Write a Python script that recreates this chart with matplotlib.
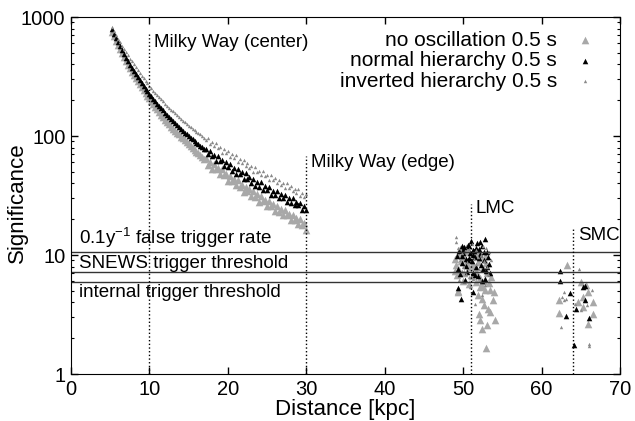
import matplotlib
matplotlib.use("Agg")
import matplotlib.pyplot as plt


# Milky Way distance grid [kpc] shared by the three simulated spectra
D_MW = [5.25, 5.5, 5.75, 6.0, 6.25, 6.5, 6.75, 7.0, 7.25, 7.5, 7.75, 8.0,
        8.25, 8.5, 8.75, 9.0, 9.25, 9.5, 9.75, 10.0, 10.25, 10.5, 10.75, 11.0,
        11.25, 11.5, 11.75, 12.0, 12.25, 12.5, 12.75, 13.0, 13.25, 13.5, 13.75, 14.0,
        14.25, 14.5, 14.75, 15.0, 15.25, 15.5, 15.75, 16.0, 16.25, 16.5, 16.75, 17.0,
        17.25, 17.5, 17.75, 18.0, 18.25, 18.5, 18.75, 19.0, 19.25, 19.5, 19.75, 20.0,
        20.25, 20.5, 20.75, 21.0, 21.25, 21.5, 21.75, 22.0, 22.25, 22.5, 22.75, 23.0,
        23.25, 23.5, 23.75, 24.0, 24.25, 24.5, 24.75, 25.0, 25.25, 25.5, 25.75, 26.0,
        26.25, 26.5, 26.75, 27.0, 27.25, 27.5, 27.75, 28.0, 28.25, 28.5, 28.75, 29.0,
        29.25, 29.5, 29.75, 30.0]

S_NOOSC_MW = [750, 689, 633, 582, 536, 495, 460, 427, 398, 372, 348, 326,
              306, 288, 272, 256, 242, 230, 218, 208, 197, 186, 177, 168,
              159, 151, 144, 137, 131, 125, 120, 115, 111, 107, 103, 99,
              95.5, 92, 89.4, 86, 82.9, 79.9, 76.9, 73.9, 71.9, 69.3, 66.9, 64.7,
              64.8, 57.5, 60.0, 53.2, 58.5, 52.5, 54.3, 48.3, 53.0, 46.8, 48.0, 42.0,
              46.3, 41.7, 43.3, 38.5, 42.4, 37.2, 39.0, 33.9, 37.5, 34.2, 35.6, 31.4,
              34.7, 30.7, 32.3, 28.1, 31.4, 28.2, 29.1, 25.9, 28.6, 25.7, 27.0, 23.4,
              25.9, 23.2, 24.5, 21.6, 23.9, 21.5, 22.2, 19.6, 21.8, 19.5, 20.6, 18.1,
              20.2, 18.0, 18.4, 16.3]
S_NORMAL_MW = [790, 725, 668, 615, 568, 526, 489, 455, 425, 398, 373, 350,
               330, 311, 294, 278, 263, 250, 237, 226, 215, 205, 196, 187,
               179, 171, 164, 157, 151, 145, 139, 134, 129, 124, 120, 115,
               111, 107, 104, 100, 97, 94, 91, 88, 85.6, 83, 80.6, 78,
               78.3, 70.8, 75.3, 67.7, 69.3, 62.0, 68.2, 61.3, 62.8, 56.4, 60.2, 54.8,
               58.4, 51.1, 53.6, 47.6, 52.5, 47.9, 49.7, 43.9, 48.9, 43.3, 45.0, 40.6,
               43.9, 38.0, 40.9, 37.6, 40.7, 35.4, 38.0, 35.1, 37.2, 32.0, 34.8, 32.1,
               34.8, 30.3, 32.5, 30.1, 31.9, 27.8, 29.9, 27.6, 30.0, 26.1, 28.1, 26.1,
               27.5, 23.9, 25.8, 23.8]
S_INVERTED_MW = [822, 761, 708, 658, 613, 573, 538, 505, 475, 448, 423, 399,
                 378, 358, 340, 322, 306, 291, 277, 264, 252, 241, 231, 221,
                 212, 203, 195, 187, 180, 173, 167, 161, 156, 150, 145, 140,
                 135, 130, 127, 122, 119, 115, 112, 108, 106, 103, 100, 96.7,
                 92.2, 95.9, 85.1, 89.9, 82.1, 87.3, 79.4, 80.5, 72.2, 78.5, 71.3, 75.3,
                 66.5, 70.4, 65.3, 68.9, 60.2, 63.8, 59.3, 62.8, 55.6, 59.4, 53.7, 56.3,
                 49.8, 55.0, 50.3, 51.2, 46.7, 51.2, 45.8, 46.8, 42.6, 46.8, 42.8, 44.0,
                 39.9, 42.9, 38.8, 40.5, 36.6, 40.2, 36.4, 38.0, 34.4, 35.9, 33.5, 35.8,
                 31.4, 33.3, 31.0, 32.8]

# Magellanic clouds, one entry per simulated burst
D_NOOSC_MC = [48.9, 49.1, 49.3, 49.5, 49.7, 49.9, 50.1, 50.3, 50.5, 50.7, 50.9, 51.1, 51.3, 51.5,
              51.7, 51.9, 52.1, 52.3, 52.5, 52.7, 52.9, 53.1, 53.3, 49.2, 49.6, 50.0, 50.4, 50.8,
              51.2, 51.6, 52.0, 52.4, 52.8, 53.5, 49.0, 50.2, 51.0, 51.8, 49.4, 49.3,
              52.2, 52.8, 52.4, 53.4, 53.9, 53.8, 52.6, 53.2, 53.4, 52.2, 54.1, 52.4, 53.0, 52.9,
              51.9, 52.0,
              63.2, 62.2, 62.2, 65.0, 65.6, 65.9, 65.3, 64.6, 66.5, 65.3, 66.6, 65.9]
S_NOOSC_MC = [9.3, 8.2, 10.2, 7.5, 8.9, 9.8, 7.0, 8.5, 10.6, 7.9, 9.1, 6.7, 8.2, 9.9,
              7.3, 8.7, 6.4, 9.4, 7.8, 6.1, 8.6, 7.0, 5.8, 6.8, 11.2, 6.0, 11.5, 5.7,
              10.9, 5.9, 10.3, 5.5, 9.9, 6.5, 7.3, 9.5, 8.0, 10.5, 5.0, 4.9,
              5.4, 5.05, 4.3, 5.05, 4.9, 4.17, 3.78, 3.55, 3.3, 2.83, 2.83, 2.37, 2.57, 1.64,
              4.6, 3.2,
              8.2, 4.22, 3.26, 5.94, 5.56, 4.89, 4.44, 4.03, 4.03, 3.66, 3.18, 2.62]

D_NORMAL_MC = [49.2, 49.5, 49.8, 50.1, 50.3, 50.6, 50.9, 51.2, 51.5, 51.8, 52.1, 52.4, 52.7, 53.0,
               53.3, 49.4, 49.9, 50.4, 50.8, 51.1, 51.4, 51.7, 52.0, 52.3, 52.6, 52.9, 53.2,
               49.6, 50.0, 50.5, 51.0, 51.3, 51.6, 51.9, 52.2, 52.5, 52.8, 53.1,
               50.2, 50.7, 51.5, 52.4, 53.4, 49.3, 49.7, 51.2, 52.8, 50.0, 51.2, 49.8, 52.0, 50.6,
               62.4, 62.4, 63.6, 65.3, 65.5, 64.4, 63.1, 66.0, 64.1, 65.5]
S_NORMAL_MC = [9.8, 10.9, 8.6, 11.6, 9.2, 12.2, 10.4, 11.1, 9.6, 12.6, 10.1, 11.8, 9.0, 10.6,
               8.4, 7.6, 9.9, 8.1, 11.9, 8.9, 10.8, 7.9, 9.4, 8.3, 10.5, 7.4, 9.7,
               6.9, 10.3, 7.2, 13.1, 7.0, 11.4, 6.6, 12.9, 7.7, 6.3, 8.0,
               6.2, 9.5, 6.8, 6.0, 7.1, 5.3, 4.3, 4.9, 13.6, 11.0, 10.0, 12.0, 11.3, 9.0,
               7.33, 6.05, 4.79, 5.37, 4.22, 3.5, 3.08, 2.93, 1.77, 5.46]

D_INVERTED_MC = [49.1, 49.1, 49.3, 49.6, 49.9, 50.2, 50.5, 50.8, 51.1, 51.4, 51.7, 52.0, 52.3,
                 52.6, 52.9, 53.2, 53.5, 49.5, 50.0, 50.7, 51.3, 51.9, 52.5, 53.0, 49.8, 50.4,
                 51.6, 52.2, 52.8, 53.3, 50.9, 52.4, 51.5,
                 62.8, 63.1, 62.5, 64.8, 66.0, 65.0, 66.4, 62.8, 66.1, 62.6, 64.2, 65.8]
S_INVERTED_MC = [14.1, 12.8, 11.4, 9.1, 7.3, 10.9, 8.8, 6.5, 12.4, 9.3, 11.0, 7.6, 10.0,
                 8.9, 11.5, 6.9, 9.0, 6.2, 8.0, 11.2, 6.3, 9.7, 12.0, 7.9, 10.4, 6.9,
                 8.4, 6.0, 5.6, 10.5, 5.4, 4.6, 3.9,
                 4.19, 4.3, 2.49, 7.58, 1.8, 3.43, 5.12, 4.89, 1.72, 4.4, 3.9, 3.8]

SERIES = ["no oscillation 0.5 s", "normal hierarchy 0.5 s", "inverted hierarchy 0.5 s"]

THRESHOLDS = [10.6, 7.2, 5.9]
THRESHOLD_LABELS = ["0.1y$^{-1}$ false trigger rate", "SNEWS trigger threshold",
                    "internal trigger threshold"]
THRESHOLD_LABEL_Y = [13.8, 8.5, 4.86]

SOURCES = ["Milky Way (center)", "Milky Way (edge)", "LMC", "SMC"]
SOURCE_DIST = [10.0, 30.0, 51.0, 64.0]
SOURCE_TOP = [720, 68, 27, 16.7]
SOURCE_LABEL_Y = [615, 60, 24.5, 14.5]


plt.rcParams["font.family"] = ["Liberation Sans", "DejaVu Sans"]
plt.rcParams["font.size"] = 13.5
plt.rcParams["mathtext.fontset"] = "custom"
plt.rcParams["mathtext.rm"] = "Liberation Sans"
plt.rcParams["mathtext.default"] = "regular"

fig = plt.figure(figsize=(6.35, 4.21), dpi=100)
ax = fig.add_axes([0.1118, 0.1116, 0.8646, 0.848])

ax.scatter(D_MW + D_NOOSC_MC, S_NOOSC_MW + S_NOOSC_MC, marker="^", s=30,
           color="#a8a8a8", linewidths=0, label=SERIES[0])
ax.scatter(D_MW + D_NORMAL_MC, S_NORMAL_MW + S_NORMAL_MC, marker="^", s=16,
           color="black", linewidths=0, label=SERIES[1])
ax.scatter(D_MW + D_INVERTED_MC, S_INVERTED_MW + S_INVERTED_MC, marker="^", s=6,
           color="#8a8a8a", linewidths=0, label=SERIES[2])

for level, text, ty in zip(THRESHOLDS, THRESHOLD_LABELS, THRESHOLD_LABEL_Y):
    ax.axhline(level, color="#333333", linewidth=1)
    ax.text(1.0, ty, text, ha="left", va="center")

for name, dist, top, ty in zip(SOURCES, SOURCE_DIST, SOURCE_TOP, SOURCE_LABEL_Y):
    ax.vlines(dist, 1, top, colors="black", linestyles=":", linewidth=1)
    ax.text(dist + 0.6, ty, name, ha="left", va="center")

ax.set_xlim(0, 70)
ax.set_yscale("log")
ax.set_ylim(1, 1000)
ax.set_xticks(range(0, 71, 10))
ax.set_yticks([1, 10, 100, 1000])
ax.set_yticklabels(["1", "10", "100", "1000"])
ax.tick_params(which="both", direction="in", top=True, right=True, labelsize=14.5)
ax.tick_params(which="major", length=5, width=1, pad=4)
ax.tick_params(which="minor", length=2.5, width=0.8)
ax.set_xlabel("Distance [kpc]", fontsize=16, labelpad=0)
ax.set_ylabel("Significance", fontsize=16)
ax.yaxis.set_label_coords(-0.078, 0.48)

ax.legend(loc="upper right", bbox_to_anchor=(0.955, 0.962), frameon=False,
          markerfirst=False, borderpad=0, borderaxespad=0, handlelength=1.0,
          handletextpad=0.85, labelspacing=0.08, scatterpoints=1, fontsize=15)

fig.savefig("out.png", dpi=100)
